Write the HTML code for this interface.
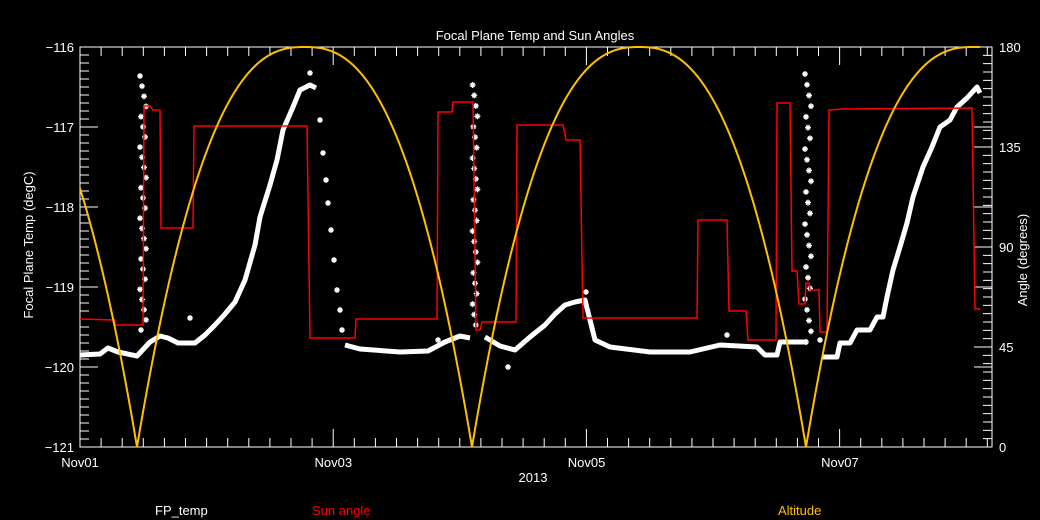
<!DOCTYPE html>
<html><head><meta charset="utf-8"><style>
html,body{margin:0;padding:0;background:#000;width:1040px;height:520px;overflow:hidden}
svg{display:block}
text{font-family:"Liberation Sans",sans-serif;fill:#fff;font-size:13px}
</style></head><body>
<svg id="s" width="1040" height="520" viewBox="0 0 1040 520" xmlns="http://www.w3.org/2000/svg">
<text x="535" y="40" text-anchor="middle" font-size="14">Focal Plane Temp and Sun Angles</text>
<text x="533" y="482" text-anchor="middle">2013</text>
<text x="155" y="515">FP_temp</text>
<text x="312" y="515" style="fill:#ff0000">Sun angle</text>
<text x="778" y="515" style="fill:#ffc000">Altitude</text>
<text transform="translate(33,245) rotate(-90)" text-anchor="middle">Focal Plane Temp (degC)</text>
<text transform="translate(1027,260) rotate(-90)" text-anchor="middle">Angle (degrees)</text>
<g id="ax"></g>
<g id="data"></g>
</svg>
<script>
const NS="http://www.w3.org/2000/svg";
const ax=document.getElementById('ax'),dg=document.getElementById('data');
function el(p,tag,a,txt){const e=document.createElementNS(NS,tag);for(const k in a)e.setAttribute(k,a[k]);if(txt!==undefined)e.textContent=txt;p.appendChild(e);return e;}
const L=80,R=992,T=47,B=447;
let d='';
for(let i=0;i<=50;i++){const y=T+i*8;const len=(i%10==0)?18:9;d+=`M${L} ${y}h${len}`;}
for(let k=0;k<=5;k++){el(ax,'text',{x:L-6,y:T+k*80+5,'text-anchor':'end'},'\u2212'+(116+k));}
for(let i=0;i<=48;i++){const y=B-i*400/48;const len=(i%12==0)?18:9;d+=`M${R} ${y}h${-len}`;}
for(let a=36;a<180;a+=36){const y=B-a*400/180;d+=`M${R} ${y}h-18`;}
[0,45,90,135,180].forEach(a=>{el(ax,'text',{x:R+7,y:B-a*400/180+5},''+a);});
for(let i=0;i*21.1<=R-L+1;i++){const x=L+i*21.1;const len=(i%12==0)?18:9;d+=`M${x} ${B}v${-len}M${x} ${T}v${len}`;}
['Nov01','Nov03','Nov05','Nov07'].forEach((s,i)=>el(ax,'text',{x:L+i*253.3,y:467,'text-anchor':'middle'},s));
el(ax,'path',{d:d,stroke:'#fff','stroke-width':1,fill:'none'});
el(ax,'rect',{x:L,y:T,width:R-L,height:B-T,stroke:'#fff',fill:'none','stroke-width':1});
const band=[[80,355],[100,354],[108,348],[118,352],[137,356],[150,342],[160,336],[168,338],[178,343],[195,343],[205,335],[215,325],[225,314],[235,302],[245,280],[255,245],[260,217],[270,185],[277,160],[283,130],[293,107],[300,90],[310,85],[316,88]];
const band2=[[345,345],[360,349],[400,352],[428,351],[445,342],[460,336],[470,338]];
const band3=[[485,337],[500,346],[515,350],[530,337],[545,325],[555,314],[565,305],[575,302],[585,300],[595,340],[610,347],[650,352],[690,352],[720,345],[757,347],[765,355],[777,355],[780,342],[807,342]];
const band4=[[822,357],[837,357],[840,343],[850,343],[857,330],[870,330],[877,317],[883,317],[887,297],[893,270],[900,247],[907,223],[913,197],[923,167],[932,147],[940,127],[950,120],[957,107],[967,98],[977,87],[980,93]];
[band,band2,band3,band4].forEach(b=>el(dg,'polyline',{points:b.map(p=>p.join(',')).join(' '),stroke:'#fff','stroke-width':5,fill:'none','stroke-linejoin':'round'}));
function star(x,y){el(dg,'path',{d:`M${x-3} ${y}h6M${x} ${y-3}v6M${x-2} ${y-2}l4 4M${x-2} ${y+2}l4 -4`,stroke:'#fff','stroke-width':1.3});}
function spike(x0,y0,y1,n,jit){for(let i=0;i<n;i++){const y=y0+(y1-y0)*i/(n-1);star(x0+((i*37)%7-3)*jit,y);}}
spike(143,76,330,26,1);spike(475,85,325,24,0.8);spike(808,74,342,26,1);
[[320,120],[323,153],[326,180],[328,203],[331,230],[334,260],[337,290],[340,310],[342,330],[310,73],[586,292],[727,335],[508,367],[438,340],[190,318],[820,340]].forEach(p=>star(p[0],p[1]));
const red=[[80,319],[115,320],[115,325],[143,325],[144,106],[150,106],[153,110],[160,110],[161,228],[193,228],[194,126],[307,126],[310,338],[355,338],[356,319],[437,319],[438,112],[452,112],[453,102],[473,102],[476,330],[480,330],[482,322],[516,322],[517,125],[563,125],[566,140],[580,140],[583,318],[697,318],[698,220],[727,220],[729,311],[746,311],[748,340],[776,340],[777,103],[790,103],[792,271],[797,271],[799,304],[805,304],[806,283],[809,283],[810,290],[819,290],[820,332],[827,332],[829,110],[842,109],[972,108],[975,309],[980,309]];
el(dg,'polyline',{points:red.map(p=>p.join(',')).join(' '),stroke:'#ff0000','stroke-width':1.5,fill:'none'});
function ay(a){return B-a*400/180;}
function f(u){u=Math.max(0,Math.min(1,u));return 180*(1-Math.pow(1-u,2.5));}
const zeros=[137,472,806],H=167.5;
let pts=[];
for(let x=80;x<=980;x++){
  let dmin=1e9;zeros.forEach(z=>{dmin=Math.min(dmin,Math.abs(x-z));});
  if(x>806) dmin=x-806;
  pts.push([x,ay(f(dmin/H))]);
}
el(dg,'polyline',{points:pts.map(p=>p[0]+','+p[1].toFixed(1)).join(' '),stroke:'#ffc000','stroke-width':2,fill:'none'});
</script>
</body></html>
